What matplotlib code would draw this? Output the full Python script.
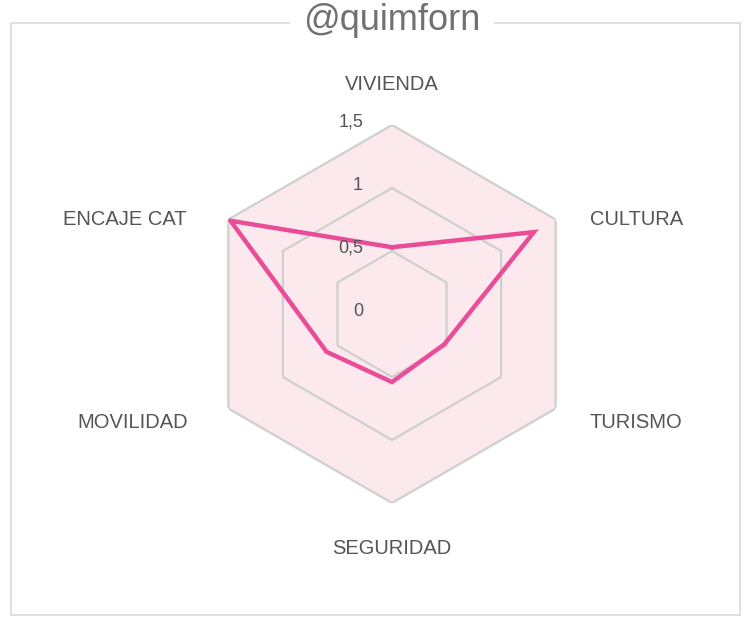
import numpy as np
import matplotlib
matplotlib.use("Agg")
import matplotlib.pyplot as plt
from matplotlib.patches import Rectangle

# Data
categories = ["VIVIENDA", "CULTURA", "TURISMO", "SEGURIDAD", "MOVILIDAD", "ENCAJE CAT"]
values = [0.53, 1.3, 0.48, 0.54, 0.6, 1.48]
grid_levels = [0.5, 1.0, 1.5]
tick_labels = ["0", "0,5", "1", "1,5"]
tick_values = [0, 0.5, 1.0, 1.5]
title = "@quimforn"

W, H = 748, 628
fig = plt.figure(figsize=(W / 100, H / 100), dpi=100)
fig.patch.set_facecolor("white")

# border box
fig.add_artist(Rectangle((11 / W, (H - 615) / H), 729 / W, 592 / H,
                         transform=fig.transFigure, fill=False,
                         edgecolor="#d9d9d9", linewidth=1.2))
fig.text(392 / W, (H - 20) / H, title, ha="center", va="center",
         fontsize=26, color="#707070", family="Liberation Sans",
         bbox=dict(facecolor="white", edgecolor="none", pad=10))

# polar axes centred at (392, 314) px with r=1.5 -> 189 px
R = 189
ax = fig.add_axes([(392 - R) / W, (H - 314 - R) / H, 2 * R / W, 2 * R / H],
                  projection="polar")
ax.set_theta_offset(np.pi / 2)
ax.set_theta_direction(-1)
ax.set_ylim(0, 1.5)
ax.set_axis_off()

n = len(categories)
angles = np.linspace(0, 2 * np.pi, n, endpoint=False)
closed = np.concatenate([angles, angles[:1]])

# background fill of the outer hexagon
ax.fill(closed, [1.5] * (n + 1), color="#fbe9ee", zorder=1, linewidth=0)

# hexagon grid
for lv in grid_levels:
    ax.plot(closed, [lv] * (n + 1), color="#cfcfcf", linewidth=1.6, zorder=2)

# series
vals = values + values[:1]
ax.plot(closed, vals, color="#ea4c98", linewidth=3.2, zorder=4,
        solid_joinstyle="miter")

# tick labels
for tv, tl in zip(tick_values, tick_labels):
    ax.annotate(tl, xy=(0, tv), xytext=(-29, 3), textcoords="offset pixels",
                ha="right", va="center", fontsize=13, color="#555555",
                family="Liberation Sans", zorder=5)

# category labels
offsets = [(0, 41, "center"), (34, 0, "left"), (34, -14, "left"),
           (0, -45, "center"), (-40, -14, "right"), (-42, 0, "right")]
for ang, cat, (dx, dy, ha) in zip(angles, categories, offsets):
    ax.annotate(cat, xy=(ang, 1.5), xytext=(dx, dy), textcoords="offset pixels",
                ha=ha, va="center", fontsize=14.5, color="#555555",
                family="Liberation Sans", annotation_clip=False)

fig.savefig("out.png", dpi=100)
